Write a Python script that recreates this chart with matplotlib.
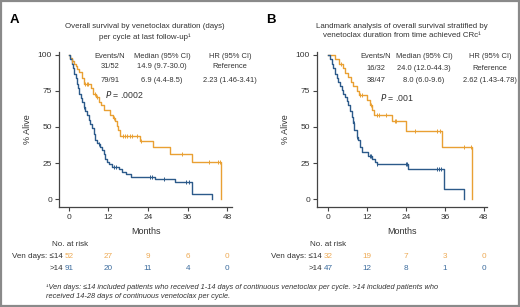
import numpy as np
import matplotlib as mpl
mpl.use('Agg')
from matplotlib import pyplot as plt
from matplotlib.patches import Rectangle

plt.rcParams['font.family'] = ['Liberation Sans', 'DejaVu Sans']

# ---------------- data ----------------
# panel A: overall survival by venetoclax days per cycle
a_le14_t = [0, 0.4, 0.9, 1.4, 2.0, 2.6, 3.2, 3.9, 4.5, 6.6, 7.4, 8.2, 9.0, 9.6,
            10.5, 12.6, 13.4, 14.0, 14.6, 15.0, 15.4, 21.5, 25.5, 30.7, 37.2, 46.2]
a_le14_s = [100, 98, 96, 94, 92, 90, 88, 84, 80, 77, 73, 71, 67, 65,
            62, 58, 56, 54, 51, 48, 44, 40.5, 36, 31, 26, 0]
a_le14_cens = [1.0, 4.8, 5.4, 5.9, 7.9, 8.5, 13.8, 16.5, 17.0, 17.6, 18.5,
               19.0, 20.5, 22.0, 34.4, 42.6, 45.3, 45.8]

a_gt14_t = [0, 0.4, 0.8, 1.2, 1.6, 2.0, 2.4, 2.8, 3.2, 3.6, 4.0, 4.5, 5.0, 5.5,
            6.0, 6.5, 7.0, 7.5, 8.0, 8.5, 9.0, 9.5, 10.0, 10.5, 11.0, 11.5,
            12.3, 13.0, 15.2, 16.2, 17.2, 18.8, 26.0, 32.2, 37.3, 43.4]
a_gt14_s = [100, 97, 94, 91, 87, 84, 80, 77, 73, 70, 67, 64, 61, 58,
            55, 52, 49, 45, 41, 39, 38, 36, 34, 31, 28, 26,
            24, 22.5, 21, 19, 17.5, 15.5, 13.6, 11.5, 3.5, 0]
a_gt14_cens = [4.6, 9.2, 13.6, 14.4, 24.5, 25.2, 28.8, 35.5, 36.5]

# panel B: landmark analysis from time achieved CRc
b_le14_t = [0, 2.3, 3.3, 4.6, 5.3, 6.3, 7.0, 7.8, 8.8, 9.4, 11.9, 12.9, 13.5,
            14.1, 19.6, 24.0, 35.0, 44.4]
b_le14_s = [100, 96.9, 93.8, 90.6, 87.5, 84.4, 81.3, 78.1, 75, 72, 68.5, 65,
            61.6, 58, 54, 47, 36, 0]
b_le14_cens = [4.0, 9.8, 10.5, 13.2, 15.2, 15.8, 17.8, 20.5, 21.0, 26.8,
               33.5, 34.5, 42.0, 44.2]

b_gt14_t = [0, 0.6, 1.1, 1.6, 2.2, 2.7, 3.2, 3.7, 4.2, 4.7, 5.2, 5.7, 6.2, 6.7,
            7.3, 7.6, 8.1, 8.8, 9.3, 9.8, 10.4, 12.2, 13.7, 14.5, 15.0, 24.6,
            35.8, 41.8]
b_gt14_s = [100, 97, 94, 91, 87, 84, 81.5, 78.5, 75.7, 73, 71, 68, 65, 61,
            57, 53, 48, 43, 41, 36, 32.4, 30, 27.8, 26, 24.5, 20.6, 6.7, 0]
b_gt14_cens = [7.9, 9.0, 12.8, 13.2, 15.1, 24.0, 24.3, 33.5, 34.2, 34.8]

risk_times = [0, 12, 24, 36, 48]
a_risk_le14 = [52, 27, 9, 6, 0]
a_risk_gt14 = [91, 20, 11, 4, 0]
b_risk_le14 = [32, 19, 7, 3, 0]
b_risk_gt14 = [47, 12, 8, 1, 0]

a_table = [['Events/N', 'Median (95% CI)', 'HR (95% CI)'],
           ['31/52', '14.9 (9.7-30.0)', 'Reference'],
           ['79/91', '6.9 (4.4-8.5)', '2.23 (1.46-3.41)']]
b_table = [['Events/N', 'Median (95% CI)', 'HR (95% CI)'],
           ['16/32', '24.0 (12.0-44.3)', 'Reference'],
           ['38/47', '8.0 (6.0-9.6)', '2.62 (1.43-4.78)']]

ORANGE = '#E9A033'
BLUE = '#2C5A8A'
ORANGE_TXT = '#EDAA55'
BLUE_TXT = '#3C6C9E'
TXT = '#333333'

fig = plt.figure(figsize=(5.20, 3.07), dpi=100)
fig.add_artist(Rectangle((0.0015, 0.0025), 0.997, 0.995, transform=fig.transFigure,
                         fill=False, edgecolor='#8a8a8a', lw=1.6))


def km(ax, t, s, cens, color):
    t = np.asarray(t, float)
    s = np.asarray(s, float)
    ax.step(t, s, where='post', color=color, lw=1.0, zorder=3)
    idx = np.searchsorted(t, cens, side='right') - 1
    ax.plot(cens, s[idx], ls='none', marker='|', ms=3.2, mew=0.7,
            color=color, zorder=4)


def setup(ax, xlim):
    ax.set_xlim(*xlim)
    ax.set_ylim(-5.5, 102)
    ax.set_xticks([0, 12, 24, 36, 48])
    ax.set_yticks([0, 25, 50, 75, 100])
    for sp in ['top', 'right']:
        ax.spines[sp].set_visible(False)
    for sp in ['left', 'bottom']:
        ax.spines[sp].set_color('#444444')
        ax.spines[sp].set_linewidth(0.9)
    ax.tick_params(length=3, width=0.8, color='#444444', labelsize=6,
                   labelcolor=TXT, pad=2)
    ax.set_xlabel('Months', fontsize=6.5, color=TXT, labelpad=4)
    ax.set_ylabel('% Alive', fontsize=6.5, color=TXT, labelpad=4)


axA = fig.add_axes([0.1135, 0.3257, 0.333, 0.505])
axB = fig.add_axes([0.6096, 0.3257, 0.327, 0.505])
setup(axA, (-3.0, 49.5))
setup(axB, (-3.4, 49.0))

km(axA, a_le14_t, a_le14_s, a_le14_cens, ORANGE)
km(axA, a_gt14_t, a_gt14_s, a_gt14_cens, BLUE)
km(axB, b_le14_t, b_le14_s, b_le14_cens, ORANGE)
km(axB, b_gt14_t, b_gt14_s, b_gt14_cens, BLUE)

# panel letters and titles
fig.text(10 / 520, 1 - 20 / 307, 'A', fontsize=9.5, fontweight='bold', va='center')
fig.text(266 / 520, 1 - 20 / 307, 'B', fontsize=9.5, fontweight='bold', va='center')
fig.text(145 / 520, 1 - 32 / 307,
         'Overall survival by venetoclax duration (days)\nper cycle at last follow-up\u00b9',
         fontsize=5.7, ha='center', va='center', color=TXT, linespacing=1.5)
fig.text(402 / 520, 1 - 31 / 307,
         'Landmark analysis of overall survival stratified by\nvenetoclax duration from time achieved CRc\u00b9',
         fontsize=5.7, ha='center', va='center', color=TXT, linespacing=1.5)


def stats(table, cols_px, rows_px, p_xy, p_txt):
    for r, row in enumerate(table):
        for c, cell in enumerate(row):
            fig.text(cols_px[c] / 520, 1 - rows_px[r] / 307, cell, fontsize=5.4,
                     ha='center', va='center', color=TXT)
    fig.text(p_xy[0] / 520, 1 - p_xy[1] / 307, r'$P$ = ' + p_txt, fontsize=6.3,
             ha='left', va='center', color=TXT)


stats(a_table, [110, 162, 230], [56, 67, 80], (105, 94), '.0002')
stats(b_table, [376, 424, 490], [57, 69, 81], (380, 98), '.001')


def risk(ax, x_label, le14, gt14):
    tr = mpl.transforms.blended_transform_factory(ax.transData, fig.transFigure)
    fig.text(x_label / 520, 1 - 244 / 307, 'No. at risk', fontsize=5.8,
             ha='center', va='center', color=TXT)
    x0 = ax.transData.transform((0, 0))[0] / 520 - 6 / 520
    fig.text(x0, 1 - 256 / 307, 'Ven days: \u226414', fontsize=5.8,
             ha='right', va='center', color=TXT)
    fig.text(x0, 1 - 268 / 307, '>14', fontsize=5.8,
             ha='right', va='center', color=TXT)
    for tt, n1, n2 in zip(risk_times, le14, gt14):
        ax.text(tt, 1 - 256 / 307, str(n1), transform=tr, fontsize=5.9,
                ha='center', va='center', color=ORANGE_TXT)
        ax.text(tt, 1 - 268 / 307, str(n2), transform=tr, fontsize=5.9,
                ha='center', va='center', color=BLUE_TXT)


risk(axA, 70, a_risk_le14, a_risk_gt14)
risk(axB, 328, b_risk_le14, b_risk_gt14)

fig.text(46 / 520, 1 - 292 / 307,
         '\u00b9Ven days: \u226414 included patients who received 1-14 days of continuous '
         'venetoclax per cycle. >14 included patients who\nreceived 14-28 days of '
         'continuous venetoclax per cycle.',
         fontsize=5.3, style='italic', ha='left', va='center', color=TXT,
         linespacing=1.3)

fig.savefig('out.png', dpi=100)
plt.close(fig)
